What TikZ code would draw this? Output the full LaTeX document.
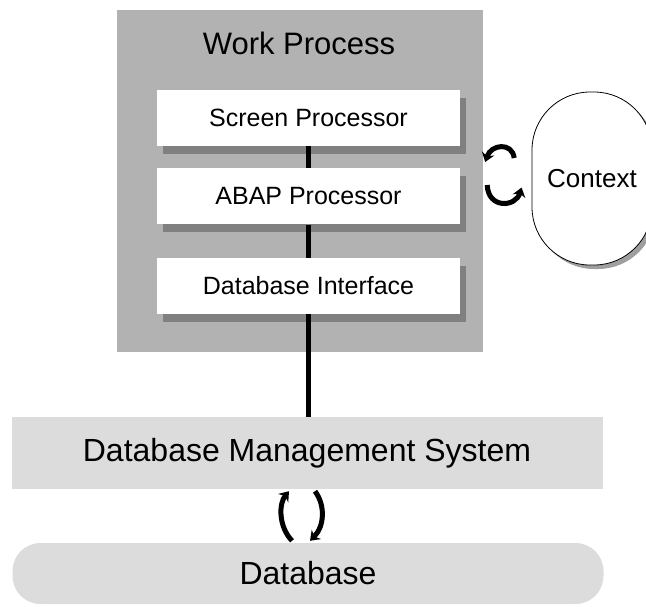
\documentclass[tikz,border=0pt]{standalone}
\usepackage{fontspec}
\setmainfont{Liberation Sans}
\usepackage{xcolor}
\usepackage{tikz}
\usetikzlibrary{arrows.meta, positioning, calc, shadows}

\definecolor{wpgray}{HTML}{B2B2B2}
\definecolor{shadegray}{HTML}{808080}
\definecolor{dbgray}{HTML}{DCDCDC}

\begin{document}
\begin{tikzpicture}[x=1pt,y=-1pt,
		link/.style={line width=5pt},
		swap arrow/.style={line width=5pt,-{Stealth[length=9pt,width=13pt]}},
		proc node/.style={rectangle,fill=white,minimum width=303pt,minimum height=56pt,
			font=\fontsize{25}{28}\selectfont,
			drop shadow={shadow xshift=6pt,shadow yshift=-8pt,fill=shadegray,opacity=1}},
		base node/.style={fill=dbgray,minimum width=591pt,font=\fontsize{32}{37}\selectfont}]
	
	\useasboundingbox (0,0) rectangle (646,606);
	\clip (0,0) rectangle (646,606);
	
	% work process with its processors
	\node[fill=wpgray,minimum width=366pt,minimum height=342pt] (wp) at (300,181) {};
	\node[font=\fontsize{31}{35}\selectfont] (title) at (299,43) {Work Process};
	\node[proc node] (screen) at (308.5,118) {Screen Processor};
	\node[proc node] (abap) [below=22pt of screen] {ABAP Processor};
	\node[proc node] (dbi) [below=33pt of abap] {Database Interface};
	
	% context
	\node[draw,line width=0.8pt,fill=white,rounded corners=58pt,minimum width=120pt,minimum height=173pt,
		font=\fontsize{26}{30}\selectfont,
		drop shadow={shadow xshift=4pt,shadow yshift=-4pt,fill=gray!75,opacity=1}] (ctx) at (592,178.5) {Context};
	
	% database side
	\node[base node,minimum height=72pt] (dbms) at (307,453) {Database Management System};
	\node[base node,minimum height=61pt,rounded corners=28pt] (db) at (308,573.5) {Database};
	
	\draw[link] (screen.south) -- (abap.north);
	\draw[link] (abap.south) -- (dbi.north);
	\draw[link] (dbi.south) -- (dbi.south |- dbms.north);
	
	% exchange arrows
	\coordinate (c1) at ($(wp.east)+(31,-23)$);
	\coordinate (c2) at ($(wp.east)+(2,-19)$);
	\coordinate (c3) at ($(wp.east)+(4,4)$);
	\coordinate (c4) at ($(ctx.west)+(-10,9)$);
	\draw[swap arrow] (c1) .. controls ($(c1)+(-2,-16)$) and ($(c2)+(6,-18)$) .. (c2);
	\draw[swap arrow] (c3) .. controls ($(c3)+(1,24)$) and ($(c4)+(-6,20)$) .. (c4);
	
	\coordinate (d1) at ($(db.north)+(-16,-2)$);
	\coordinate (d2) at ($(dbms.south)+(-18,2)$);
	\coordinate (d3) at ($(dbms.south)+(8,2)$);
	\coordinate (d4) at ($(db.north)+(2,-2)$);
	\draw[swap arrow] (d1) .. controls ($(d1)+(-14,-15)$) and ($(d2)+(-10,12)$) .. (d2);
	\draw[swap arrow] (d3) .. controls ($(d3)+(11,15)$) and ($(d4)+(14,-14)$) .. (d4);
\end{tikzpicture}
\end{document}
